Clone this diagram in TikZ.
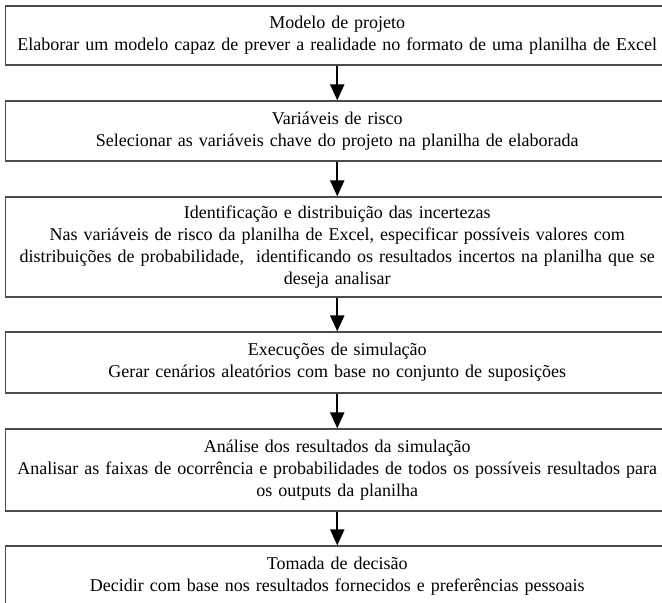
\documentclass[tikz,border=0pt]{standalone}
\usepackage{fontspec}
\setmainfont{Liberation Serif}
\usetikzlibrary{arrows.meta}
\tikzset{
  stepbox/.style={draw=black!70, line width=1.2pt, fill=white, inner sep=0pt,
    minimum width=663.5pt, text width=663.5pt, align=center,
    font=\fontsize{18}{22}\selectfont},
  flowarrow/.style={line width=2pt, -{Triangle[width=14pt,length=16pt]}}
}
\newcommand{\wideline}[1]{\makebox[\linewidth][c]{#1}}
\begin{document}
\begin{tikzpicture}[x=1pt,y=-1pt]
\useasboundingbox (0,0) rectangle (662,603);
\clip (0,0) rectangle (662,603);
\fill[white] (0,0) rectangle (662,603);
\node[stepbox, minimum height=59pt] (b1) at (337.25,35.5)
  {Modelo de projeto\\ \wideline{Elaborar um modelo capaz de prever a realidade no formato de uma planilha de Excel}};
\node[stepbox, minimum height=60pt] (b2) at (337.25,131)
  {Variáveis de risco\\ Selecionar as variáveis chave do projeto na planilha de elaborada};
\node[stepbox, minimum height=100pt] (b3) at (337.25,247)
  {Identificação e distribuição das incertezas\\
   \wideline{Nas variáveis de risco da planilha de Excel, especificar possíveis valores com}\\
   \wideline{distribuições de probabilidade,\ \ identificando os resultados incertos na planilha que se}\\
   deseja analisar};
\node[stepbox, minimum height=61pt] (b4) at (337.25,362.5)
  {Execuções de simulação\\ Gerar cenários aleatórios com base no conjunto de suposições};
\node[stepbox, minimum height=82pt] (b5) at (337.25,470)
  {Análise dos resultados da simulação\\
   \wideline{Analisar as faixas de ocorrência e probabilidades de todos os possíveis resultados para}\\
   os outputs da planilha};
\node[stepbox, minimum height=60pt] (b6) at (337.25,576)
  {Tomada de decisão\\ Decidir com base nos resultados fornecidos e preferências pessoais};
\draw[flowarrow] (b1.south) -- (b2.north);
\draw[flowarrow] (b2.south) -- (b3.north);
\draw[flowarrow] (b3.south) -- (b4.north);
\draw[flowarrow] (b4.south) -- (b5.north);
\draw[flowarrow] (b5.south) -- (b6.north);
\end{tikzpicture}
\end{document}
